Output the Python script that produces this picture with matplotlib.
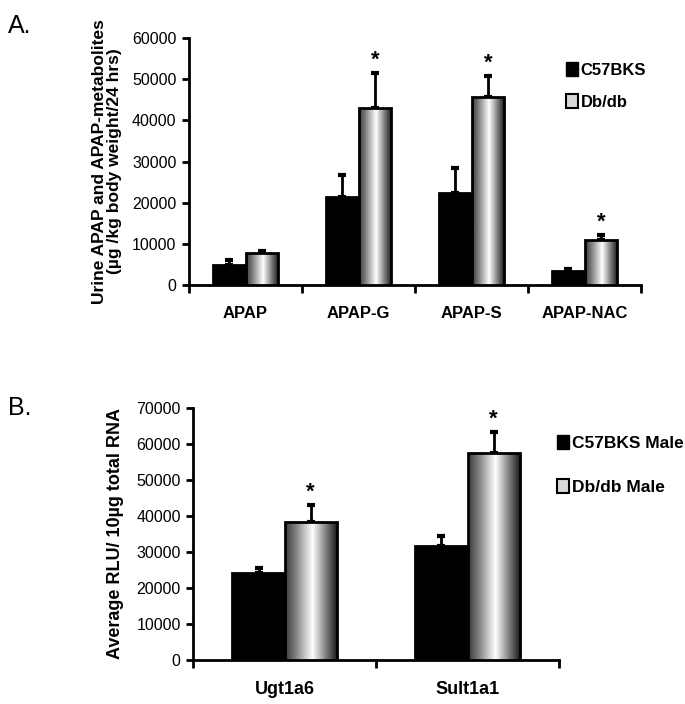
import numpy as np
import matplotlib
matplotlib.use("Agg")
import matplotlib.pyplot as plt
from matplotlib.patches import Patch
from matplotlib import font_manager

# panel A data
cats_a = ["APAP", "APAP-G", "APAP-S", "APAP-NAC"]
c57_a = [4900, 21400, 22400, 3400]
c57_a_err = [1300, 5400, 6100, 500]
db_a = [7700, 43000, 45600, 10900]
db_a_err = [500, 8500, 5200, 1200]
star_a = [False, True, True, True]

# panel B data
cats_b = ["Ugt1a6", "Sult1a1"]
c57_b = [24200, 31700]
c57_b_err = [1400, 2800]
db_b = [38300, 57500]
db_b_err = [4800, 5800]
star_b = [True, True]

names = [f.name for f in font_manager.fontManager.ttflist]
narrow = "Liberation Sans Narrow" if "Liberation Sans Narrow" in names else "Liberation Sans"
plt.rcParams['font.family'] = ['Liberation Sans', 'DejaVu Sans']

# gray "cylinder" shading across each Db/db bar
prof_t = [0, 0.2, 0.52, 0.8, 1.0]
prof_v = [0.22, 0.5, 1.0, 0.45, 0.08]
grad = np.interp(np.linspace(0, 1, 200), prof_t, prof_v).reshape(1, -1)


def draw_panel(ax, cats, v1, e1, v2, e2, stars, ymax, step, w, tick_fs, cat_fs):
    x = np.arange(len(cats))
    b1 = ax.bar(x - w / 2, v1, w, color="black", edgecolor="black", linewidth=2, zorder=3)
    b2 = ax.bar(x + w / 2, v2, w, facecolor="none", edgecolor="black", linewidth=2, zorder=4)
    for rect in b2:
        x0 = rect.get_x()
        im = ax.imshow(grad, cmap="gray", vmin=0, vmax=1, aspect="auto",
                       extent=[x0, x0 + rect.get_width(), 0, rect.get_height()],
                       zorder=3, interpolation="bilinear")
        im.set_clip_path(rect)
    ax.errorbar(x - w / 2, v1, yerr=[np.zeros(len(x)), e1], fmt="none", ecolor="black",
                elinewidth=2, capsize=3, capthick=3, zorder=2)
    ax.errorbar(x + w / 2, v2, yerr=[np.zeros(len(x)), e2], fmt="none", ecolor="black",
                elinewidth=2, capsize=3, capthick=3, zorder=2)
    for i, s in enumerate(stars):
        if s:
            ax.text(x[i] + w / 2, v2[i] + e2[i] + ymax * 0.01, "*", ha="center", va="bottom",
                    fontsize=16, fontweight="bold")
    ax.set_xlim(-0.5, len(cats) - 0.5)
    ax.set_ylim(0, ymax)
    ax.set_yticks(np.arange(0, ymax + 1, step))
    ax.set_yticklabels([str(int(v)) for v in np.arange(0, ymax + 1, step)],
                       fontfamily=narrow, fontsize=tick_fs)
    ax.set_xticks(np.arange(-0.5, len(cats), 1.0))
    ax.set_xticklabels([])
    ax.set_xticks(x, minor=True)
    ax.set_xticklabels(cats, minor=True, fontfamily=narrow, fontweight="bold", fontsize=cat_fs)
    ax.tick_params(axis="x", which="minor", length=0, pad=15)
    ax.tick_params(axis="x", which="major", length=6, width=2, direction="out")
    ax.tick_params(axis="y", length=5, width=2, direction="out", pad=4)
    for s in ["top", "right"]:
        ax.spines[s].set_visible(False)
    for s in ["left", "bottom"]:
        ax.spines[s].set_linewidth(2)


fig = plt.figure(figsize=(6.85, 7.04), dpi=100)

ax1 = fig.add_axes([0.276, 0.595, 0.660, 0.351])
draw_panel(ax1, cats_a, c57_a, c57_a_err, db_a, db_a_err, star_a, 60000, 10000, 0.29, 11.5, 12)
ax1.set_ylabel("Urine APAP and APAP-metabolites\n(µg /kg body weight/24 hrs)",
               fontsize=12.5, fontweight="bold", labelpad=7, linespacing=1.0)
ax1.legend(handles=[Patch(facecolor="black", edgecolor="black"),
                    Patch(facecolor="#d8d8d8", edgecolor="black", linewidth=1.5)],
           labels=["C57BKS", "Db/db"], loc="upper left", bbox_to_anchor=(0.82, 0.93),
           frameon=False, handlelength=0.7, handleheight=0.9, handletextpad=0.15,
           labelspacing=1.0, borderaxespad=0,
           prop={"family": narrow, "weight": "bold", "size": 12})

ax2 = fig.add_axes([0.282, 0.0625, 0.534, 0.358])
draw_panel(ax2, cats_b, c57_b, c57_b_err, db_b, db_b_err, star_b, 70000, 10000, 0.285, 11.5, 13)
ax2.set_ylabel("Average RLU/ 10µg total RNA", fontsize=13, fontweight="bold", labelpad=9)
ax2.legend(handles=[Patch(facecolor="black", edgecolor="black"),
                    Patch(facecolor="#d8d8d8", edgecolor="black", linewidth=1.5)],
           labels=["C57BKS Male", "Db/db Male"], loc="upper left", bbox_to_anchor=(0.975, 0.92),
           frameon=False, handlelength=0.7, handleheight=0.9, handletextpad=0.15,
           labelspacing=1.6, borderaxespad=0,
           prop={"family": narrow, "weight": "bold", "size": 12.5})

fig.text(0.012, 0.963, "A.", fontsize=18, va="center")
fig.text(0.012, 0.42, "B.", fontsize=18, va="center")

fig.savefig("out.png", dpi=100)
